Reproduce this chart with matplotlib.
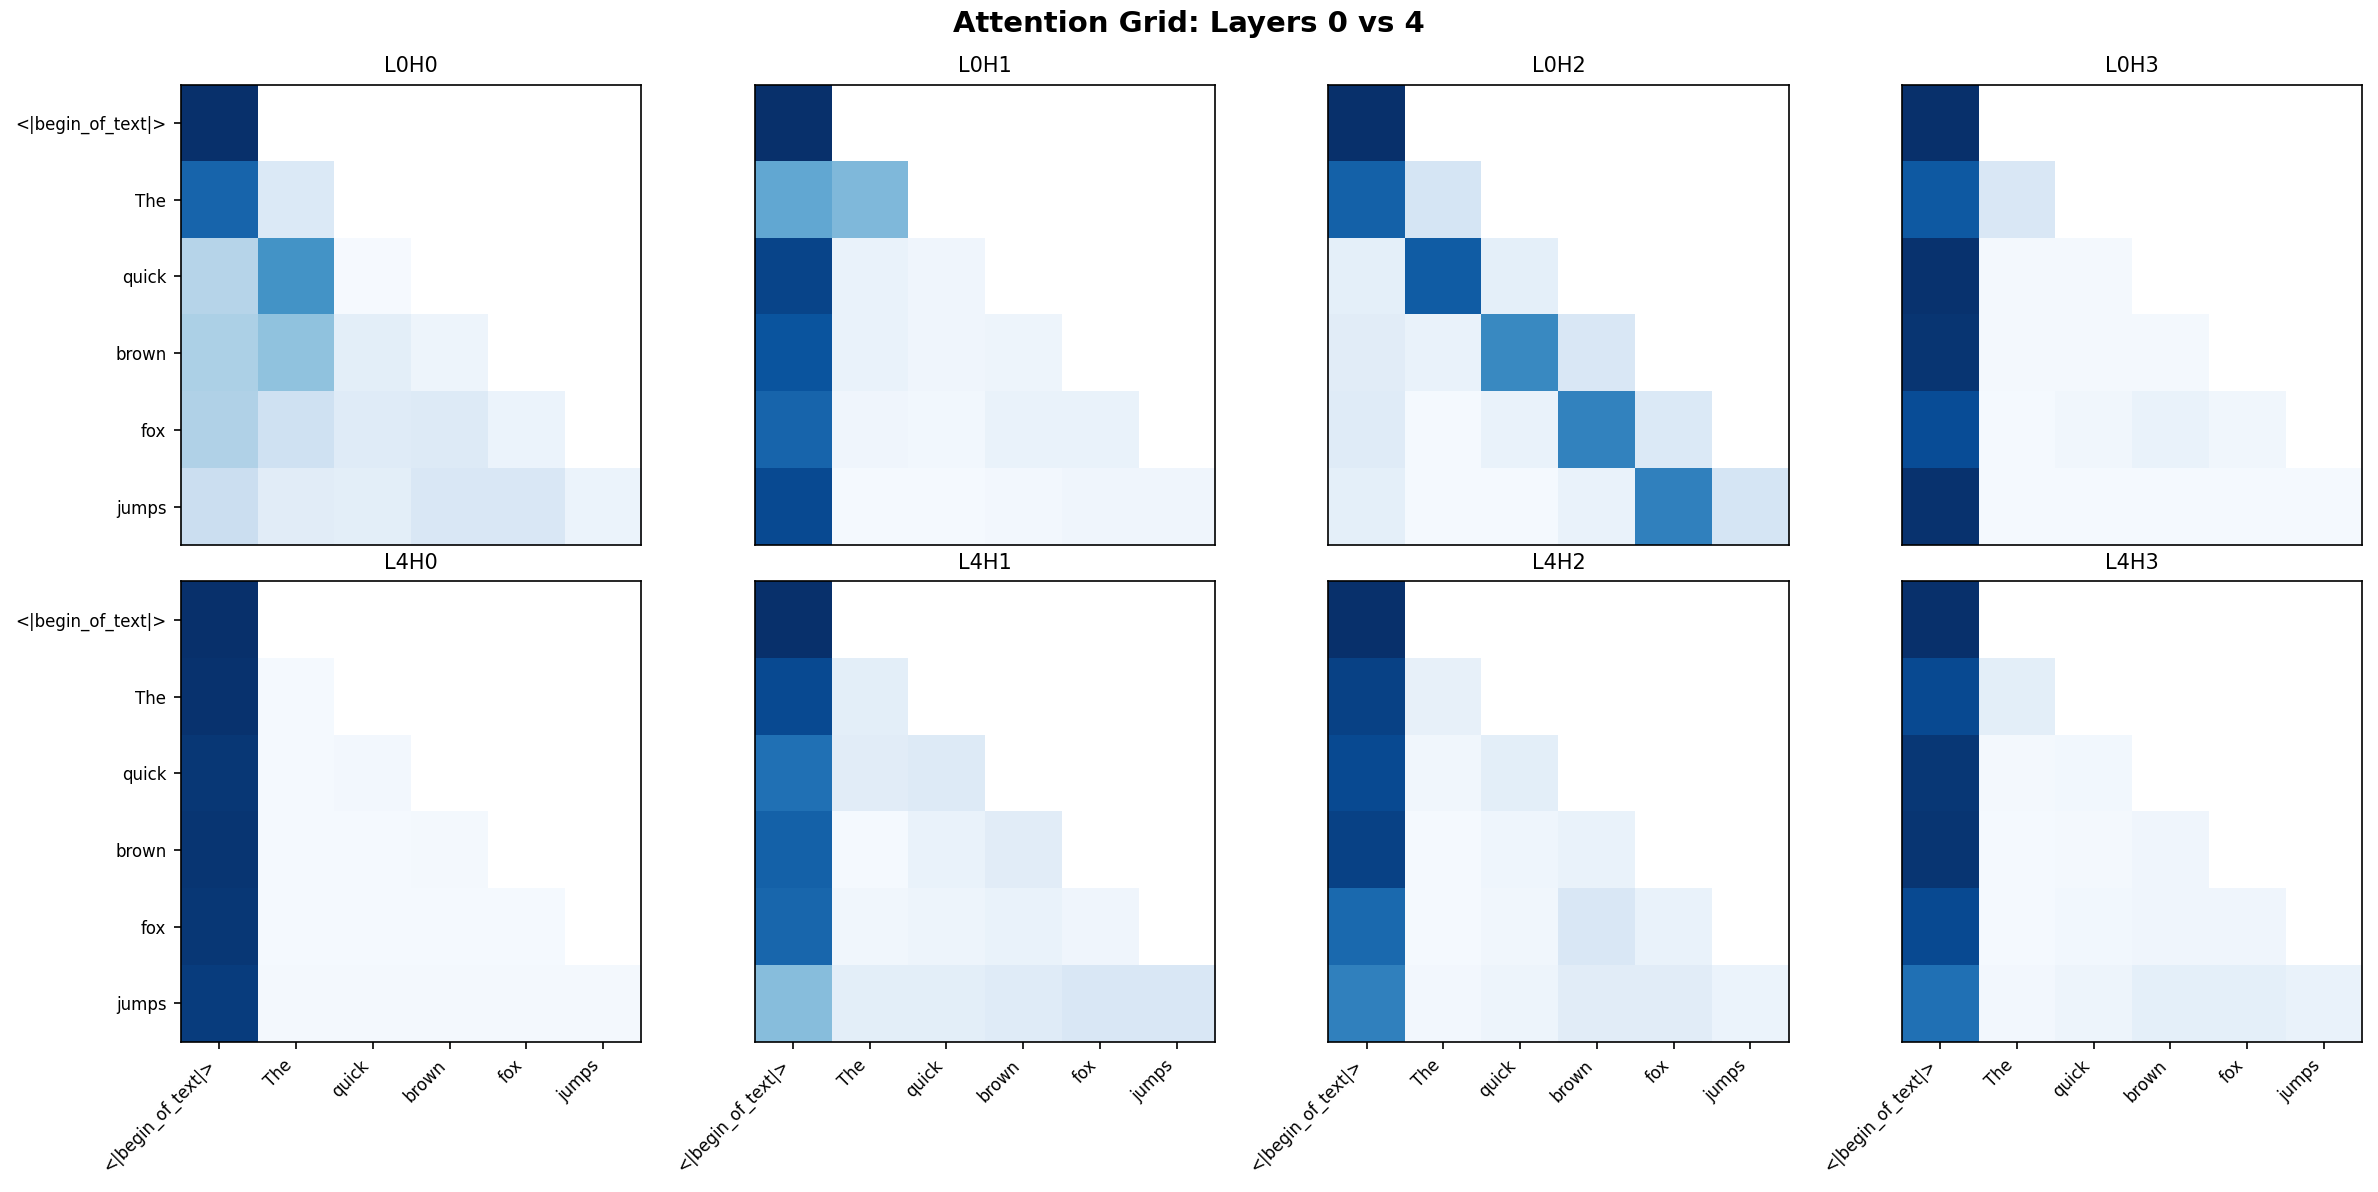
import numpy as np
import matplotlib
matplotlib.use("Agg")
import matplotlib.pyplot as plt

# -------------------------------------------------------------
# Attention grid: layer 0 vs layer 4, heads 0-3
# values (lower triangle only)
# -------------------------------------------------------------

tokens = ["<|begin_of_text|>", "The", "quick", "brown", "fox", "jumps"]
panel_names = ["L0H0", "L0H1", "L0H2", "L0H3", "L4H0", "L4H1", "L4H2", "L4H3"]

L0H0 = [
    [1.00],
    [0.80, 0.14],
    [0.30, 0.62, 0.01],
    [0.33, 0.41, 0.10, 0.05],
    [0.32, 0.20, 0.12, 0.13, 0.06],
    [0.22, 0.11, 0.10, 0.15, 0.15, 0.06],
]
L0H1 = [
    [1.00],
    [0.53, 0.45],
    [0.92, 0.07, 0.04],
    [0.86, 0.07, 0.04, 0.05],
    [0.80, 0.04, 0.03, 0.07, 0.07],
    [0.90, 0.015, 0.015, 0.025, 0.04, 0.04],
]
L0H2 = [
    [1.00],
    [0.81, 0.17],
    [0.09, 0.83, 0.09],
    [0.11, 0.07, 0.66, 0.15],
    [0.12, 0.012, 0.07, 0.68, 0.14],
    [0.09, 0.012, 0.012, 0.07, 0.69, 0.17],
]
L0H3 = [
    [1.00],
    [0.84, 0.15],
    [0.99, 0.02, 0.02],
    [0.98, 0.02, 0.02, 0.02],
    [0.89, 0.012, 0.035, 0.07, 0.035],
    [0.99, 0.015, 0.015, 0.015, 0.015, 0.015],
]
L4H0 = [
    [1.00],
    [0.99, 0.012],
    [0.97, 0.012, 0.025],
    [0.98, 0.012, 0.012, 0.02],
    [0.97, 0.012, 0.012, 0.015, 0.015],
    [0.95, 0.02, 0.02, 0.02, 0.02, 0.02],
]
L4H1 = [
    [1.00],
    [0.90, 0.10],
    [0.75, 0.11, 0.13],
    [0.81, 0.012, 0.07, 0.11],
    [0.79, 0.035, 0.05, 0.07, 0.04],
    [0.43, 0.10, 0.10, 0.12, 0.15, 0.15],
]
L4H2 = [
    [1.00],
    [0.93, 0.08],
    [0.90, 0.035, 0.10],
    [0.93, 0.012, 0.045, 0.07],
    [0.78, 0.012, 0.035, 0.15, 0.07],
    [0.69, 0.025, 0.05, 0.11, 0.11, 0.06],
]
L4H3 = [
    [1.00],
    [0.90, 0.10],
    [0.97, 0.02, 0.03],
    [0.98, 0.012, 0.02, 0.04],
    [0.90, 0.012, 0.03, 0.04, 0.04],
    [0.75, 0.025, 0.05, 0.09, 0.09, 0.07],
]


def to_matrix(rows, n):
    """lower-triangular rows -> n x n matrix, masked (NaN) above diagonal"""
    m = np.full((n, n), np.nan)
    for i, r in enumerate(rows):
        m[i, :len(r)] = r
    return m


def main():
    n = len(tokens)
    panels = [L0H0, L0H1, L0H2, L0H3, L4H0, L4H1, L4H2, L4H3]

    fig, axes = plt.subplots(2, 4, figsize=(2378 / 150, 1192 / 150), dpi=150)
    fig.subplots_adjust(left=0.0759, right=0.9936, top=0.929, bottom=0.126,
                        wspace=0.243, hspace=0.079)

    cmap = plt.get_cmap("Blues").copy()
    cmap.set_bad("white")

    for idx, ax in enumerate(axes.flat):
        mat = to_matrix(panels[idx], n)
        ax.imshow(mat, cmap=cmap, vmin=0, vmax=1, interpolation="nearest")
        ax.set_title(panel_names[idx], fontsize=10)

        row, col = divmod(idx, 4)
        if col == 0:
            ax.set_yticks(range(n))
            ax.set_yticklabels(tokens, fontsize=8)
        else:
            ax.set_yticks([])
        if row == 1:
            ax.set_xticks(range(n))
            ax.set_xticklabels(tokens, rotation=45, ha="right", fontsize=8)
        else:
            ax.set_xticks([])

    fig.suptitle("Attention Grid: Layers 0 vs 4", fontsize=14, fontweight="bold", y=0.992)

    fig.savefig("out.png", dpi=150)


if __name__ == "__main__":
    main()
